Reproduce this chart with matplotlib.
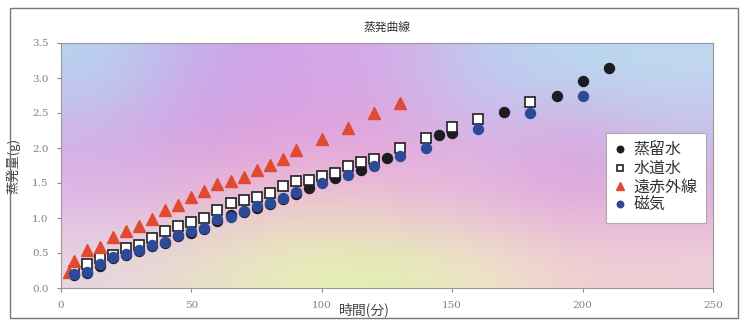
import numpy as np
import matplotlib
matplotlib.use("Agg")
import matplotlib.pyplot as plt
from matplotlib.colors import to_rgb
from matplotlib.patches import Rectangle

plt.rcParams['font.family'] = ['Noto Sans CJK JP', 'DejaVu Sans']

# 蒸留水
t_distilled = [5, 10, 15, 20, 25, 30, 35, 40, 45, 50, 55, 60, 65, 70, 75, 80, 85, 90,
               95, 105, 115, 125, 145, 150, 170, 190, 200, 210]
w_distilled = [0.18, 0.21, 0.32, 0.43, 0.47, 0.53, 0.60, 0.64, 0.74, 0.79, 0.84, 0.96, 1.05, 1.08,
               1.15, 1.20, 1.27, 1.35, 1.43, 1.57, 1.69, 1.86, 2.18, 2.22, 2.51, 2.75, 2.96, 3.15]

# 水道水
t_tap = [5, 10, 15, 20, 25, 30, 35, 40, 45, 50, 55, 60, 65, 70, 75, 80, 85, 90,
         95, 100, 105, 110, 115, 120, 130, 140, 150, 160, 180]
w_tap = [0.24, 0.35, 0.43, 0.47, 0.57, 0.62, 0.71, 0.81, 0.88, 0.94, 1.00, 1.12, 1.21, 1.26,
         1.30, 1.36, 1.46, 1.53, 1.55, 1.60, 1.64, 1.75, 1.80, 1.85, 2.00, 2.14, 2.30, 2.41, 2.66]

# 遠赤外線
t_far_ir = [3, 5, 10, 15, 20, 25, 30, 35, 40, 45, 50, 55, 60, 65, 70, 75, 80, 85, 90,
            100, 110, 120, 130]
w_far_ir = [0.23, 0.39, 0.55, 0.59, 0.73, 0.81, 0.89, 0.99, 1.11, 1.19, 1.30, 1.39, 1.48, 1.53,
            1.59, 1.69, 1.76, 1.85, 1.97, 2.13, 2.28, 2.50, 2.64]

# 磁気
t_magnet = [5, 10, 15, 20, 25, 30, 35, 40, 45, 50, 55, 60, 65, 70, 75, 80, 85, 90,
            100, 110, 120, 130, 140, 160, 180, 200]
w_magnet = [0.20, 0.23, 0.34, 0.45, 0.49, 0.55, 0.62, 0.66, 0.76, 0.81, 0.86, 0.98, 1.02, 1.10,
            1.17, 1.22, 1.29, 1.37, 1.50, 1.62, 1.75, 1.88, 2.00, 2.27, 2.50, 2.75]

x_ticks = [0, 50, 100, 150, 200, 250]
y_ticks = [0.0, 0.5, 1.0, 1.5, 2.0, 2.5, 3.0, 3.5]

# pastel fill behind the plot area (rows top -> bottom)
bg_rows = [
    ['#b8d4f0', '#c8a8ea', '#d4a4e8', '#d8aae6', '#bcccf2', '#b8daf0', '#c0d8f0'],
    ['#d0b0e8', '#d89ce0', '#e0a0dc', '#e0a2de', '#d8b6e8', '#d8a4e0', '#c8c0ec'],
    ['#e0b4e6', '#e8b4da', '#f0c4d0', '#f0bcd6', '#e8b4de', '#e0a4de', '#e0acde'],
    ['#e8d6e0', '#e8e0c8', '#e8f0b8', '#e0f0b0', '#f0e6c8', '#f0d0d0', '#f0d0d8'],
]
bg = np.array([[to_rgb(c) for c in row] for row in bg_rows])

fig = plt.figure(figsize=(7.4, 3.2), dpi=100)
fig.patches.append(Rectangle((10 / 740, 2 / 320), 728 / 740, 310 / 320,
                             transform=fig.transFigure, fill=False,
                             edgecolor='#777777', linewidth=1.0))
ax = fig.add_axes([61 / 740, 32 / 320, 652 / 740, 245 / 320])

ax.imshow(bg, extent=[0, 250, 0, 3.5], aspect='auto', interpolation='bicubic', zorder=0)

ax.plot(t_distilled, w_distilled, 'o', color='#1c1c24', markersize=7.2, label='蒸留水', zorder=2)
ax.plot(t_tap, w_tap, 's', markerfacecolor='white', markeredgecolor='#202020',
        markeredgewidth=1.2, markersize=7.2, label='水道水', zorder=3)
ax.plot(t_far_ir, w_far_ir, '^', color='#e04a30', markersize=8.2, label='遠赤外線', zorder=3)
ax.plot(t_magnet, w_magnet, 'o', color='#2c4a98', markersize=7.2, label='磁気', zorder=4)

ax.set_xlim(0, 250)
ax.set_ylim(0, 3.5)
ax.set_xticks(x_ticks)
ax.set_yticks(y_ticks)
ax.set_xticklabels([str(v) for v in x_ticks], family='DejaVu Serif', fontsize=7.5, color='#808080')
ax.set_yticklabels(['%.1f' % v for v in y_ticks], family='DejaVu Serif', fontsize=7.5, color='#808080')
ax.tick_params(length=3, color='#888888', pad=6)
for s in ax.spines.values():
    s.set_color('#999999')
    s.set_linewidth(0.8)

ax.set_title('蒸発曲線', fontsize=8.5, color='#333333', pad=9)
ax.set_xlabel('時間(分)', fontsize=10, color='#444444')
ax.xaxis.set_label_coords(0.466, -0.058)
ax.set_ylabel('蒸発量(g)', fontsize=9.5, color='#444444')
ax.yaxis.set_label_coords(-0.062, 0.5)

leg = ax.legend(loc='upper right', bbox_to_anchor=(0.994, 0.645), fontsize=11.5,
                markerscale=0.65, handlelength=0.7, handletextpad=0.45,
                labelspacing=0.08, borderpad=0.55, borderaxespad=0.2,
                frameon=True, fancybox=False, framealpha=1.0)
leg.get_frame().set_edgecolor('#aaaaaa')
leg.get_frame().set_linewidth(0.8)
leg._legend_box.align = 'left'
for t in leg.get_texts():
    t.set_color('#333333')

fig.savefig('out.png', dpi=100)
